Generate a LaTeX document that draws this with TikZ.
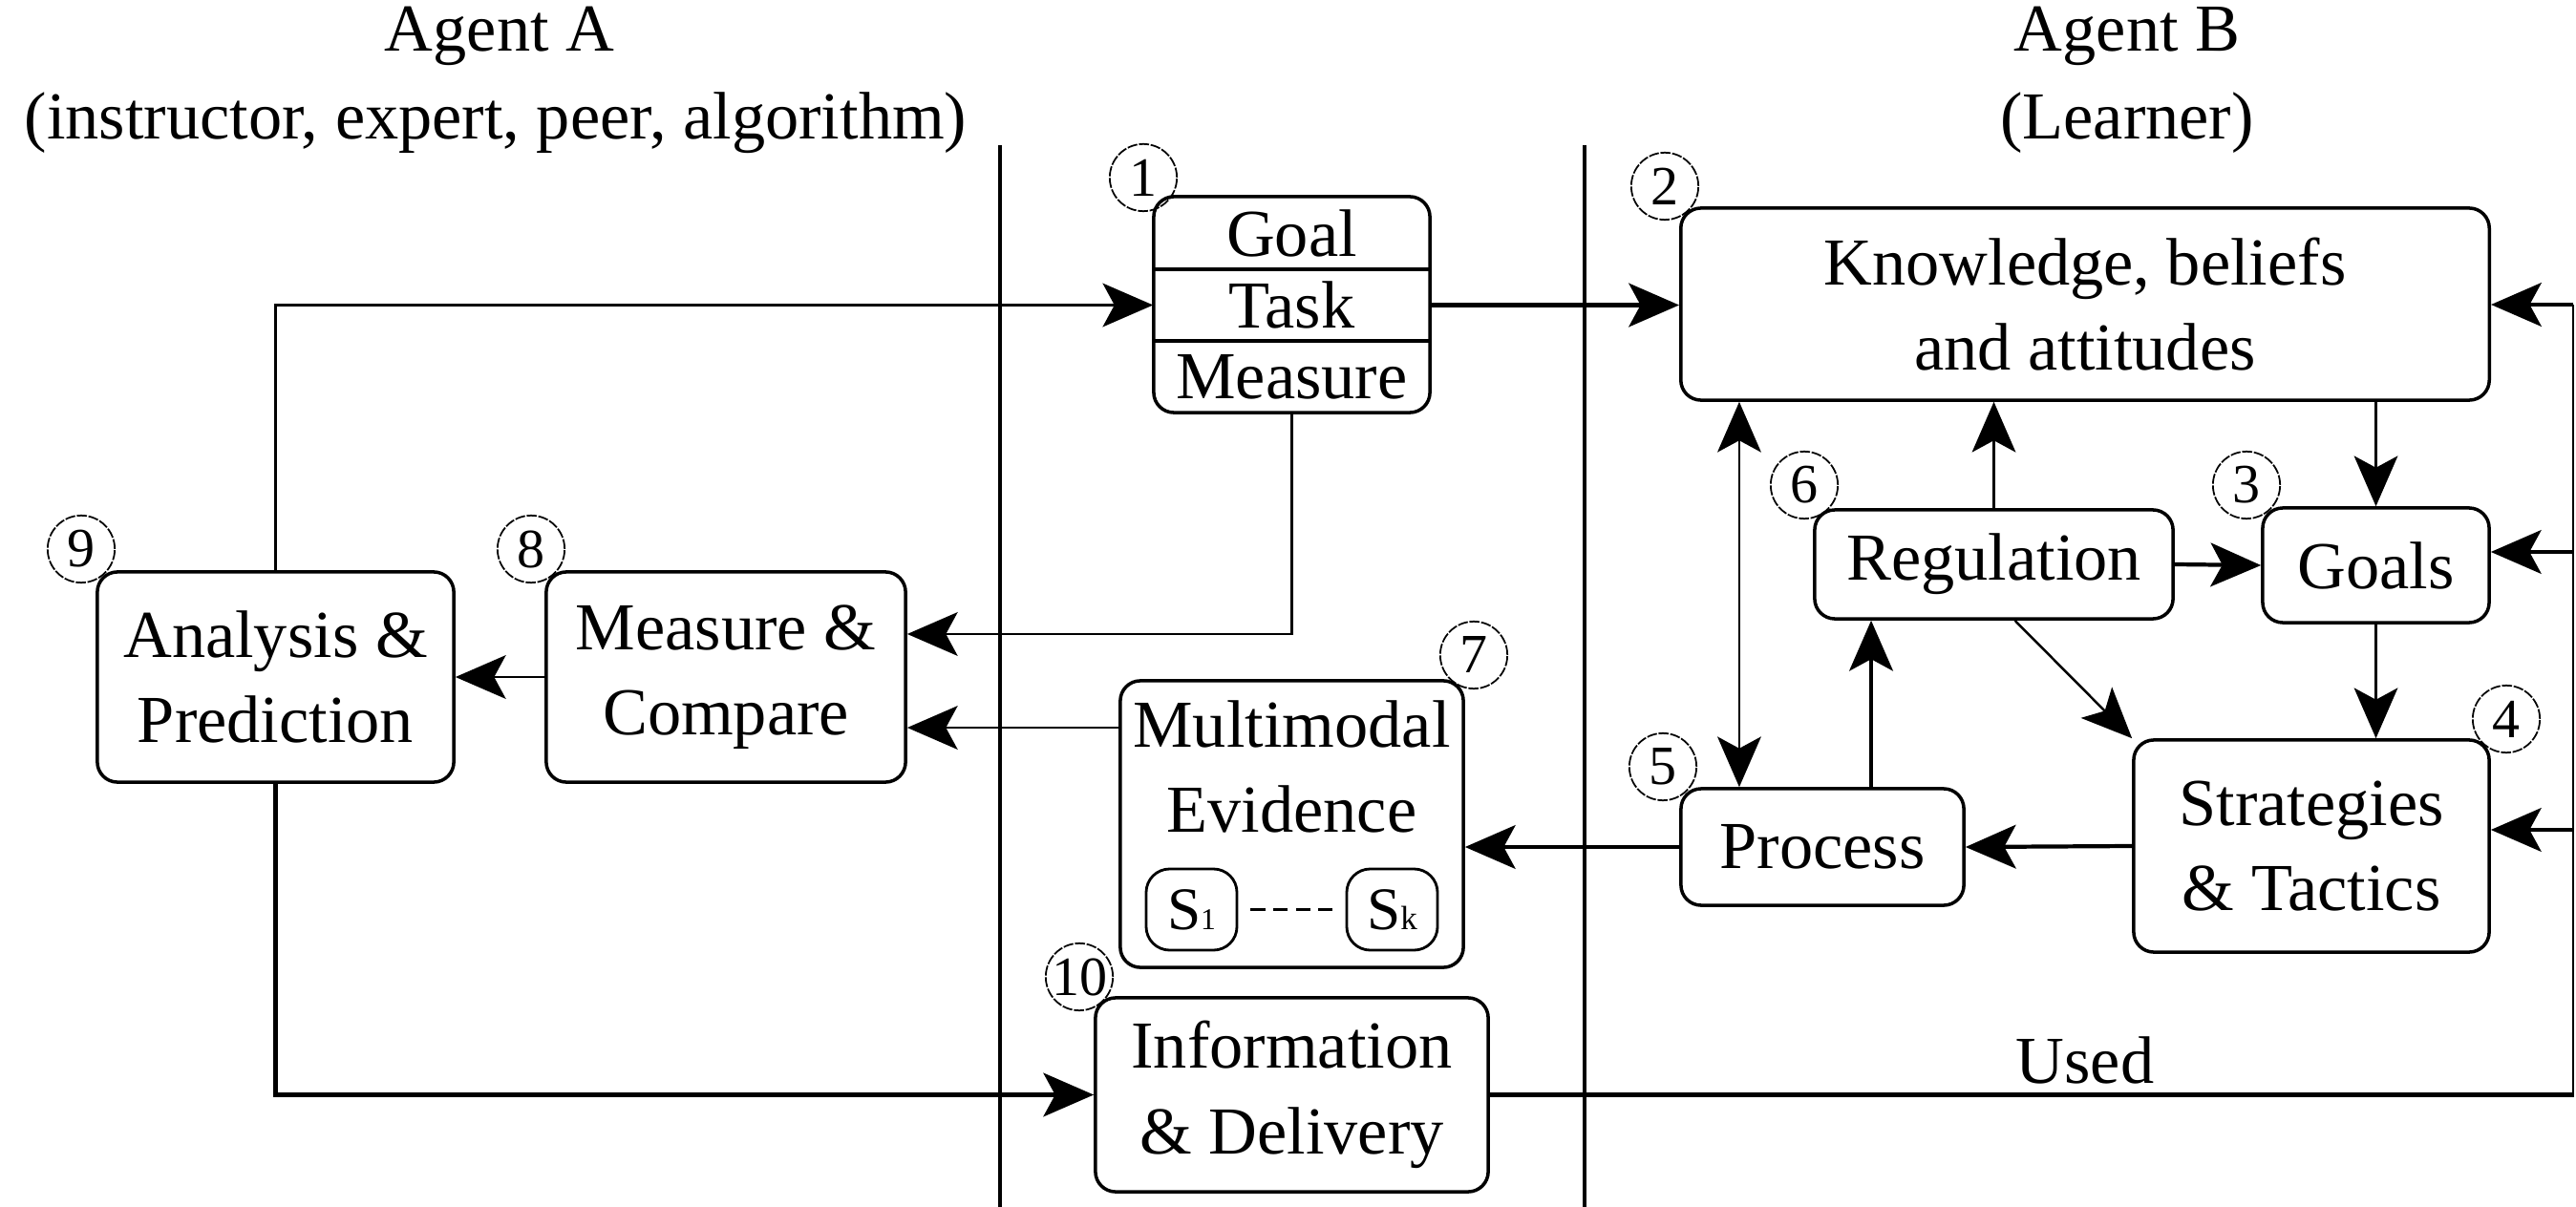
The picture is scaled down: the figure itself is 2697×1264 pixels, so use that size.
\documentclass[tikz,border=0pt]{standalone}
\usepackage{fontspec}
\setmainfont{Liberation Serif}
\usetikzlibrary{arrows.meta}
\newcommand\mainfs{\fontsize{20}{25.5}\selectfont}
\newcommand\numfs{\fontsize{16.5}{18}\selectfont}
\newcommand\sfs{\fontsize{18}{20}\selectfont}
\tikzset{
  tipA/.tip={Stealth[length=15pt 0 0,width=13pt 0 0,inset=3.5pt 0 0]},
}
\begin{document}
\begin{tikzpicture}[x=0.01cm,y=-0.01cm,
  box/.style={draw, line width=1pt, rounded corners=6pt, align=center, inner sep=0pt, font=\mainfs},
  row/.style={inner sep=0pt, minimum width=2.89cm, minimum height=0.75cm, font=\mainfs},
  txt/.style={inner sep=0pt, align=center, font=\mainfs},
  num/.style={circle, draw, line width=0.5pt, dash pattern=on 3pt off 0.5pt, minimum size=20pt, inner sep=0pt, font=\numfs},
  sbox/.style={draw, line width=0.8pt, rounded corners=7pt, minimum width=0.95cm, minimum height=0.85cm, inner sep=0pt, font=\sfs},
  thinln/.style={line width=0.7pt},
  thickln/.style={line width=1.2pt},
  sepln/.style={line width=0.9pt},
  arr/.style={-tipA},
  darr/.style={tipA-tipA}
]
\useasboundingbox (0,0) rectangle (2697,1264);

% headers
\node[txt] (ha) at (523,38) {Agent A};
\node[txt] (hb) at (519,129) {(instructor, expert, peer, algorithm)};
\node[txt] (hc) at (2227,38) {Agent B};
\node[txt] (hd) at (2227,129) {(Learner)};

% separators
\draw[sepln] (1047,152) -- (1047,1264);
\draw[sepln] (1659,152) -- (1659,1264);

% box 1: Goal / Task / Measure
\node[box, minimum width=2.89cm, minimum height=2.26cm] (tgm) at (1352.5,319) {};
\node[row] (goal) at (1352.5,244) {Goal};
\node[row] (task) at (1352.5,319.5) {Task};
\node[row] (meas) at (1352.5,394.5) {Measure};
\draw[line width=1pt] (tgm.west |- 0,282) -- (tgm.east |- 0,282);
\draw[line width=1pt] (tgm.west |- 0,357) -- (tgm.east |- 0,357);

% learner side
\node[box, minimum width=8.46cm, minimum height=2.01cm] (know) at (2183,318.5) {Knowledge, beliefs\\and attitudes};
\node[box, minimum width=2.37cm, minimum height=1.20cm] (goals) at (2487.5,592) {Goals};
\node[box, minimum width=3.75cm, minimum height=1.14cm] (reg) at (2087.5,591) {Regulation};
\node[box, minimum width=2.96cm, minimum height=1.22cm] (proc) at (1908,887) {Process};
\node[box, minimum width=3.72cm, minimum height=2.22cm] (strat) at (2420,886) {Strategies\\\& Tactics};

% multimodal evidence
\node[box, minimum width=3.59cm, minimum height=3.00cm] (mm) at (1352.5,863) {};
\node[txt] (mmtxt) at (1352.5,803) {Multimodal\\Evidence};
\node[sbox] (s1) at (1247.5,952.5) {S\raisebox{0pt}{\fontsize{9}{9}\selectfont 1}};
\node[sbox] (sk) at (1457.5,952.5) {S\raisebox{0pt}{\fontsize{10}{10}\selectfont k}};
\draw[line width=1pt, dash pattern=on 4.3pt off 2.4pt] ([xshift=0.13cm]s1.east) -- ([xshift=-0.13cm]sk.west);

% agent A side
\node[box, minimum width=3.76cm, minimum height=2.20cm] (mc) at (760,709) {Measure \&\\Compare};
\node[box, minimum width=3.73cm, minimum height=2.20cm] (ap) at (288.5,709) {Analysis \&\\Prediction};
\node[box, minimum width=4.11cm, minimum height=2.03cm] (info) at (1352.5,1146.5) {Information\\\& Delivery};

% numbers
\node[num] (n1) at (1197,186) {1};
\node[num] (n2) at (1743,195) {2};
\node[num] (n3) at (2352,508) {3};
\node[num] (n4) at (2624,753) {4};
\node[num] (n5) at (1741,803) {5};
\node[num] (n6) at (1889,508) {6};
\node[num] (n7) at (1543,686) {7};
\node[num] (n8) at (556,575) {8};
\node[num] (n9) at (85,575) {9};
\node[num] (n10) at (1130,1023) {10};

% right return line
\coordinate (rt) at (2694,319);
\coordinate (rb) at (2694,1149);

% connectors agent A
\draw[thinln, arr] (ap.north) |- (task.west);
\draw[thickln, arr] (task.east) -- (task.east -| know.west);
\draw[thinln, arr] (tgm.south) |- ([yshift=0.45cm]mc.east);
\draw[thinln, arr] ([yshift=-0.53cm]mc.east -| mm.west) -- ([yshift=-0.53cm]mc.east);
\draw[thinln, arr] (mc.west) -- (ap.east);
\draw[thickln, arr] (ap.south) |- (info.west);

% return line
\draw[thickln] (info.east) -- (info.east -| rb);
\draw[thinln] (rb) -- (rt);
\draw[thickln, arr] (rt) -- (rt -| know.east);
\draw[thickln, arr] ([yshift=0.14cm]goals.east -| rt) -- ([yshift=0.14cm]goals.east);
\draw[thickln, arr] ([yshift=0.17cm]strat.east -| rt) -- ([yshift=0.17cm]strat.east);
\node[txt] (used) at (2183,1110) {Used};

% learner connectors
\draw[thinln, darr] ([xshift=-0.87cm]proc.north |- know.south) -- ([xshift=-0.87cm]proc.north);
\draw[thickln, arr] ([xshift=0.51cm]proc.north) -- ([xshift=0.51cm]proc.north |- reg.south);
\draw[thinln, arr] (reg.north) -- (reg.north |- know.south);
\draw[thinln, arr] (goals.north |- know.south) -- (goals.north);
\draw[thickln, arr] (reg.east) -- (goals.west);
\draw[thinln, arr] (goals.south) -- (goals.south |- strat.north);
\draw[thinln, arr] ([xshift=0.22cm]reg.south) -- (strat.north west);
\draw[thickln, arr] (strat.west) -- (proc.east);
\draw[thickln, arr] (proc.west) -- (proc.west -| mm.east);
\end{tikzpicture}
\end{document}
